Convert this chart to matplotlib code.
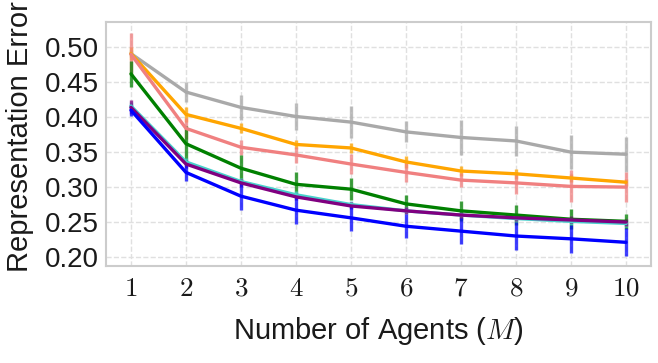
import matplotlib
matplotlib.use("Agg")
import matplotlib.pyplot as plt
import seaborn as sns

sns.set_style("whitegrid", {"grid.linestyle": "--", "axes.edgecolor": "#cccccc"})
plt.rcParams["font.family"] = ["Liberation Sans", "DejaVu Sans"]
plt.rcParams["mathtext.fontset"] = "cm"

agents = [1, 2, 3, 4, 5, 6, 7, 8, 9, 10]

gray_mean = [0.491, 0.436, 0.414, 0.401, 0.393, 0.379, 0.371, 0.366, 0.350, 0.347]
gray_err = [0.005, 0.014, 0.018, 0.020, 0.023, 0.015, 0.025, 0.021, 0.024, 0.025]
orange_mean = [0.491, 0.404, 0.384, 0.361, 0.356, 0.336, 0.323, 0.319, 0.313, 0.307]
orange_err = [0.009, 0.011, 0.007, 0.006, 0.007, 0.008, 0.007, 0.007, 0.006, 0.005]
salmon_mean = [0.490, 0.384, 0.357, 0.346, 0.333, 0.321, 0.310, 0.306, 0.301, 0.300]
salmon_err = [0.030, 0.015, 0.011, 0.011, 0.014, 0.014, 0.010, 0.016, 0.023, 0.021]
green_mean = [0.462, 0.362, 0.327, 0.304, 0.297, 0.276, 0.266, 0.260, 0.254, 0.251]
green_err = [0.019, 0.025, 0.019, 0.017, 0.016, 0.012, 0.014, 0.014, 0.014, 0.011]
cyan_mean = [0.416, 0.336, 0.308, 0.289, 0.275, 0.266, 0.260, 0.255, 0.251, 0.248]
cyan_err = [0.006, 0.005, 0.005, 0.005, 0.005, 0.005, 0.005, 0.005, 0.005, 0.005]
purple_mean = [0.414, 0.333, 0.306, 0.286, 0.273, 0.266, 0.260, 0.256, 0.253, 0.250]
purple_err = [0.010, 0.006, 0.006, 0.005, 0.005, 0.005, 0.005, 0.005, 0.005, 0.005]
blue_mean = [0.410, 0.321, 0.287, 0.267, 0.256, 0.244, 0.237, 0.230, 0.226, 0.221]
blue_err = [0.008, 0.012, 0.020, 0.020, 0.019, 0.017, 0.019, 0.020, 0.020, 0.020]

yticks = [0.20, 0.25, 0.30, 0.35, 0.40, 0.45, 0.50]

series = [
    (gray_mean, gray_err, "darkgray"),
    (orange_mean, orange_err, "orange"),
    (salmon_mean, salmon_err, "lightcoral"),
    (green_mean, green_err, "green"),
    (cyan_mean, cyan_err, "mediumturquoise"),
    (purple_mean, purple_err, "purple"),
    (blue_mean, blue_err, "blue"),
]

fig = plt.figure(figsize=(6.58, 3.63), dpi=100)
ax = fig.add_axes([0.161, 0.267, 0.828, 0.672])
for mean, err, color in series:
    ax.errorbar(agents, mean, yerr=err, color=color, lw=2.4, elinewidth=2.4,
                capsize=0)
# error bars a bit translucent, like the original
for coll in ax.collections:
    coll.set_alpha(0.75)

ax.set_xlim(0.545, 10.45)
ax.set_ylim(0.187, 0.536)
ax.set_xticks(agents)
ax.set_xticklabels([f"${a}$" for a in agents], fontsize=19.5)
ax.set_yticks(yticks)
ax.set_yticklabels([f"{v:.2f}" for v in yticks], fontsize=20)
ax.tick_params(axis="both", length=0, colors="#1a1a1a")
ax.tick_params(axis="x", pad=7)
ax.tick_params(axis="y", pad=5)
ax.set_xlabel("Number of Agents ($M$)", fontsize=21, color="#1a1a1a")
ax.set_ylabel("Representation Error", fontsize=21, color="#1a1a1a")
ax.xaxis.set_label_coords(0.5, -0.2)
ax.yaxis.set_label_coords(-0.132, 0.53)
ax.grid(True, color="#e0e0e0", linestyle="--", lw=1.0)
for sp in ax.spines.values():
    sp.set_color("#cccccc")
    sp.set_linewidth(1.5)

fig.savefig("out.png", dpi=100)
